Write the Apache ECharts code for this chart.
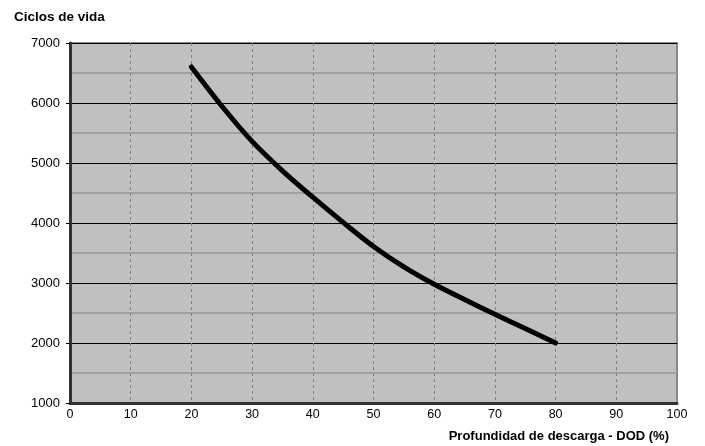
<!DOCTYPE html>
<html>
<head>
<meta charset="utf-8">
<script src="https://cdn.jsdelivr.net/npm/echarts@6/dist/echarts.min.js"></script>
<style>html,body{margin:0;padding:0;background:#fff}#c{width:705px;height:446px}</style>
</head>
<body>
<div id="c"></div>
<script>
const dod = [20, 25, 30, 35, 40, 45, 50, 55, 60, 65, 70, 75, 80];
const ciclos = [6600, 5950, 5360, 4870, 4430, 4010, 3610, 3270, 2980, 2725, 2480, 2240, 2000];
const yTitle = 'Ciclos de vida';
const xTitle = 'Profundidad de descarga - DOD (%)';

const chart = echarts.init(document.getElementById('c'), null, {renderer: 'canvas'});
const font = '"Liberation Sans", Arial, sans-serif';
chart.setOption({
  animation: false,
  backgroundColor: '#ffffff',
  title: [
    {text: yTitle, left: 9, top: 5, textStyle: {fontFamily: font, fontSize: 13.5, fontWeight: 'bold', color: '#000'}},
    {text: xTitle, right: 31, top: 425, textStyle: {fontFamily: font, fontSize: 13, fontWeight: 'bold', color: '#000'}}
  ],
  grid: {left: 70, right: 28, top: 43, bottom: 43, show: true, backgroundColor: '#c0c0c0', borderColor: '#8c8c8c', borderWidth: 2},
  xAxis: {
    type: 'value', min: 0, max: 100, interval: 10,
    axisLine: {show: true, lineStyle: {color: '#333', width: 3}},
    axisTick: {show: false},
    axisLabel: {color: '#000', fontFamily: font, fontSize: 12.5, margin: 5},
    splitLine: {show: true, lineStyle: {color: '#808080', type: [3, 3], width: 1}}
  },
  yAxis: {
    type: 'value', min: 1000, max: 7000, interval: 1000,
    axisLine: {show: true, lineStyle: {color: '#333', width: 3}},
    axisTick: {show: true, length: 4, lineStyle: {color: '#000', width: 1}},
    axisLabel: {color: '#000', fontFamily: font, fontSize: 13, margin: 10, formatter: v => String(v)},
    splitLine: {show: true, lineStyle: {color: '#000', width: 1}},
    minorTick: {show: false, splitNumber: 2},
    minorSplitLine: {show: true, lineStyle: {color: '#a0a0a0', width: 2}}
  },
  series: [{
    type: 'line',
    data: dod.map((d, i) => [d, ciclos[i]]),
    smooth: 0.3,
    showSymbol: false,
    lineStyle: {color: '#000', width: 5, cap: 'round', join: 'round'}
  }]
});
</script>
</body>
</html>
